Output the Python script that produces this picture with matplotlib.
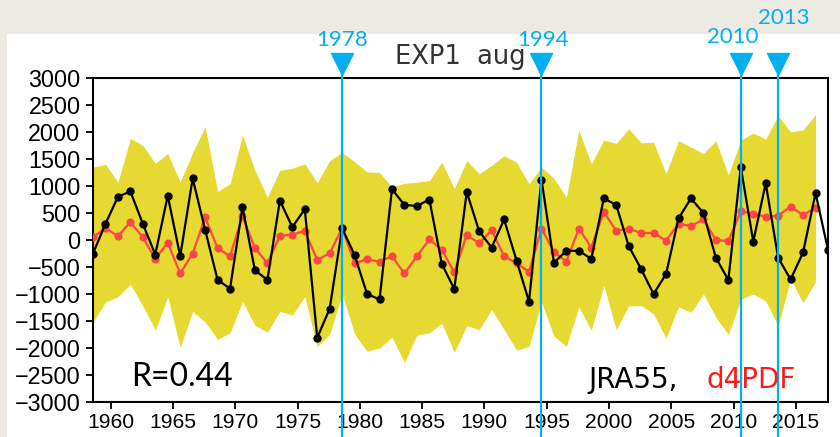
import numpy as np
import matplotlib
matplotlib.use("Agg")
import matplotlib.pyplot as plt
from matplotlib.patches import Rectangle
import matplotlib.transforms as mtransforms

# ---------------- data ----------------
years = list(range(1958, 2018))          # JRA55 years (1958-2017)
model_years = list(range(1958, 2017))    # d4PDF years (1958-2016)

jra55 = [-250, 300, 800, 900, 300, -270, 820, -300, 1140, 190,
         -740, -900, 610, -560, -740, 730, 240, 570, -1810, -1270,
         220, -280, -1000, -1100, 940, 650, 630, 750, -440, -910,
         890, 160, -140, 380, -380, -1140, 1120, -420, -200, -200,
         -350, 770, 650, -110, -540, -1000, -630, 400, 770, 500,
         -330, -740, 1350, -30, 1050, -330, -730, -230, 870, -180]

d4pdf_mean = [50, 220, 70, 330, 50, -350, -50, -620, -250, 420,
              -150, -300, 440, -150, -430, 80, 100, 170, -370, -245,
              220, -430, -360, -400, -300, -620, -300, 10, -180, -600,
              90, -60, 180, -300, -430, -590, 210, -220, -400, 210,
              -140, 520, 170, 210, 130, 130, -10, 300, 260, 380,
              0, -20, 530, 490, 430, 450, 620, 460, 600]

d4pdf_max = [1350, 1400, 1070, 1880, 1750, 1420, 1600, 1070, 1620, 2100,
             900, 1040, 1940, 1290, 790, 1290, 1330, 1410, 1060, 1470,
             1620, 1450, 1260, 1250, 980, 1050, 1070, 1100, 1440, 950,
             1470, 1230, 1380, 1560, 1440, 1040, 1350, 1140, 790, 2030,
             1410, 1850, 1790, 2060, 1800, 1810, 1230, 1840, 1720, 1600,
             1840, 1200, 1850, 1980, 1870, 2300, 2000, 2040, 2320]

d4pdf_min = [-1520, -1150, -1050, -820, -1220, -1670, -1050, -1990, -1320, -1520,
             -1840, -1720, -1140, -1580, -1710, -1320, -1390, -1050, -1970, -1750,
             -1000, -1740, -2060, -2000, -1800, -2270, -1760, -1720, -1540, -2080,
             -1590, -1660, -1290, -1660, -2040, -1970, -1150, -1780, -1970, -1240,
             -1670, -840, -1660, -1220, -1215, -1370, -1820, -1235, -1340, -1000,
             -1430, -1750, -1100, -1000, -1130, -1590, -720, -1166, -770]

event_years = [1978, 1994, 2010, 2013]
event_labels = ["1978", "1994", "2010", "2013"]

xtick_years = list(range(1960, 2020, 5))
ytick_values = list(range(-3000, 3001, 500))

title = "EXP1  aug"
corr_text = "R=0.44"

# August values sit at year + 7/12 on a decimal-year axis
month_offset = 7 / 12.0

# ---------------- figure ----------------
W, H = 840, 437
DPI = 100
fig = plt.figure(figsize=(W / DPI, H / DPI), dpi=DPI)
fig.patch.set_facecolor("#EDEAE3")


def fx(px):
    return px / W


def fy(py):
    return 1 - py / H


# white panel behind the plot
fig.patches.append(Rectangle((fx(7), 0), 1 - fx(7), fy(34), transform=fig.transFigure,
                             facecolor="white", edgecolor="none", zorder=-5))

left, right, top, bottom = 93, 828, 78, 402
ax = fig.add_axes([fx(left), fy(bottom), fx(right - left), fy(top) - fy(bottom)])
ax.set_facecolor("white")

x_obs = np.array(years, dtype=float) + month_offset
x_mod = np.array(model_years, dtype=float) + month_offset

yellow = "#E5D932"
red = "#FF4545"
blue = "#00B0F0"

ax.fill_between(x_mod, d4pdf_min, d4pdf_max, color=yellow, lw=0, zorder=1)
ax.plot(x_mod, d4pdf_mean, color=red, lw=1.6, marker="o", ms=4.8, mec=red, mfc=red, zorder=3)
ax.plot(x_obs, jra55, color="black", lw=1.6, marker="o", ms=5, mec="black", mfc="black", zorder=4)

ax.set_xlim(1958 + month_offset, 2017 + month_offset)
ax.set_ylim(-3000, 3000)
ax.set_xticks(xtick_years)
ax.set_yticks(ytick_values)
ax.set_xticklabels([str(y) for y in xtick_years])
ax.set_yticklabels([f"{v}".replace("-", "\u2212") for v in ytick_values])

for s in ax.spines.values():
    s.set_linewidth(1.5)
ax.tick_params(axis="both", direction="out", width=1.3, length=5, top=False, right=False,
               colors="black")
ax.tick_params(axis="y", pad=4)
ax.tick_params(axis="x", pad=3)


def fit_labels(labels, target_px, sample):
    """Scale tick label font so that the sample label is target_px wide."""
    renderer = fig.canvas.get_renderer()
    for lab in labels:
        lab.set_fontfamily("Liberation Sans")
        lab.set_fontsize(16)
    ref = [lab for lab in labels if lab.get_text() == sample][0]
    w = ref.get_window_extent(renderer).width
    size = 16 * target_px / max(w, 1)
    for lab in labels:
        lab.set_fontsize(size)


fit_labels(ax.get_yticklabels(), 52, "3000")
fit_labels(ax.get_xticklabels(), 47, "1960")

# title
fig.text(fx(460), fy(64), title, ha="center", va="baseline", fontsize=18.5,
         family="DejaVu Sans", color="#333333")

# correlation and legend text
fig.text(fx(131), fy(386), corr_text, ha="left", va="baseline", fontsize=23,
         family="Lato", color="black")
fig.text(fx(588), fy(388), "JRA55,", ha="left", va="baseline", fontsize=20,
         family="DejaVu Sans", color="black")
fig.text(fx(707), fy(388), "d4PDF", ha="left", va="baseline", fontsize=20,
         family="DejaVu Sans", color="#FF1A1A")

# event markers: vertical line, triangle and year label
trans = mtransforms.blended_transform_factory(ax.transData, ax.transAxes)
ax_h = bottom - top
y_fig_bottom = -(H - bottom) / ax_h
y_tip = 1 + (top - 75) / ax_h
y_tri = 1 + (top - 64) / ax_h
label_y = {"1978": 40, "1994": 40, "2010": 37, "2013": 18}
label_dx = {"1978": 0, "1994": 1, "2010": -8, "2013": 6}
for yr, lab in zip(event_years, event_labels):
    xv = yr + month_offset
    ax.plot([xv, xv], [y_fig_bottom, y_tip], transform=trans, color=blue, lw=1.6,
            clip_on=False, zorder=6)
    ax.plot([xv], [y_tri], transform=trans, marker="v", ms=15.5, color=blue,
            mec=blue, clip_on=False, zorder=6, ls="none")
    xd = ax.transData.transform((xv, 0))[0]
    fig.text((xd + label_dx[lab]) / W, fy(label_y[lab]), lab, ha="center", va="center",
             fontsize=16, family="Lato", color=blue)

fig.savefig("out.png", dpi=DPI, facecolor=fig.get_facecolor())
